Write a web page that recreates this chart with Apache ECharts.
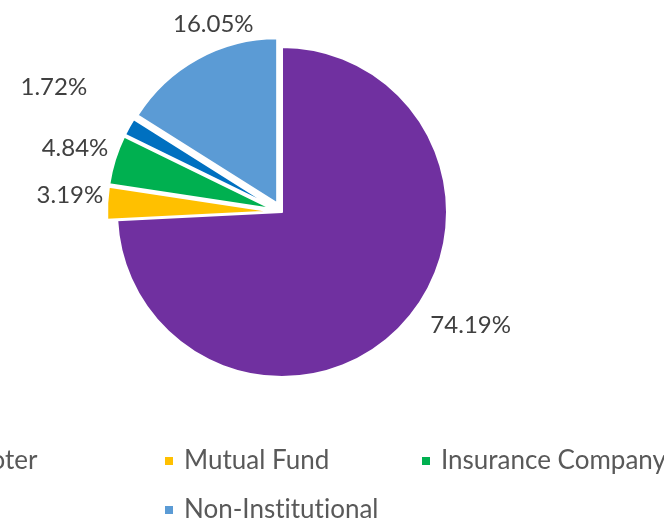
<!DOCTYPE html>
<html>
<head>
<meta charset="utf-8">
<script src="https://cdn.jsdelivr.net/npm/echarts@6/dist/echarts.min.js"></script>
<style>
  html, body { margin: 0; padding: 0; background: #fff; }
  #chart { width: 664px; height: 519px; }
</style>
</head>
<body>
<div id="chart"></div>
<script>
// shareholding split, in percent
const categories = ['Promoter', 'Mutual Fund', 'Insurance Company', 'FII', 'Non-Institutional'];
const values = [74.19, 3.19, 4.84, 1.72, 16.05];
const colors = ['#7030A0', '#FFC000', '#00B050', '#0070C0', '#5B9BD5'];

const font = 'Lato, "Open Sans", sans-serif';

// small nudges so the percent labels sit where the original placed them
const labelNudge = [[18, -6], [9, -8], [6, -9], [-30, -36], [65, -28]];

const myChart = echarts.init(document.getElementById('chart'));

// one legend box per entry so each sits where the original put it
const legendSpots = [
  { left: -96, top: 443 },
  { left: 158, top: 443 },
  { left: 415, top: 443 },
  { left: 690, top: 443 },
  { left: 158, top: 492 }
];
const legends = categories.map((name, i) => ({
  data: [name],
  left: legendSpots[i].left,
  top: legendSpots[i].top,
  icon: 'rect',
  itemWidth: 10,
  itemHeight: 10,
  selectedMode: false,
  // zero-width non-joiner keeps Lato from drawing the "ti" ligature
  formatter: (n) => n.replace(/ti/g, 't\u200Ci'),
  textStyle: {
    fontFamily: font,
    fontSize: 26,
    lineHeight: 26,
    color: '#595959',
    padding: [0, 0, 0, 5]
  }
}));

let option = {
  animation: false,
  color: colors,
  legend: legends,
  series: [
    {
      type: 'pie',
      center: [282, 212],
      radius: 165,
      startAngle: 90,
      clockwise: true,
      selectedMode: 'multiple',
      selectedOffset: 10,
      avoidLabelOverlap: false,
      itemStyle: {
        borderColor: '#fff',
        borderWidth: 2
      },
      label: {
        show: true,
        position: 'outside',
        formatter: (p) => p.value.toFixed(2) + '%',
        fontFamily: font,
        fontSize: 24,
        color: '#404040'
      },
      labelLine: { show: false, length: 8, length2: 0 },
      labelLayout: (params) => ({
        dx: labelNudge[params.dataIndex][0],
        dy: labelNudge[params.dataIndex][1]
      }),
      emphasis: { disabled: true },
      data: categories.map((name, i) => ({
        name: name,
        value: values[i],
        selected: i > 0
      }))
    }
  ]
};

myChart.setOption(option);
window.addEventListener('resize', () => {
  myChart.resize();
});
</script>
</body>
</html>
